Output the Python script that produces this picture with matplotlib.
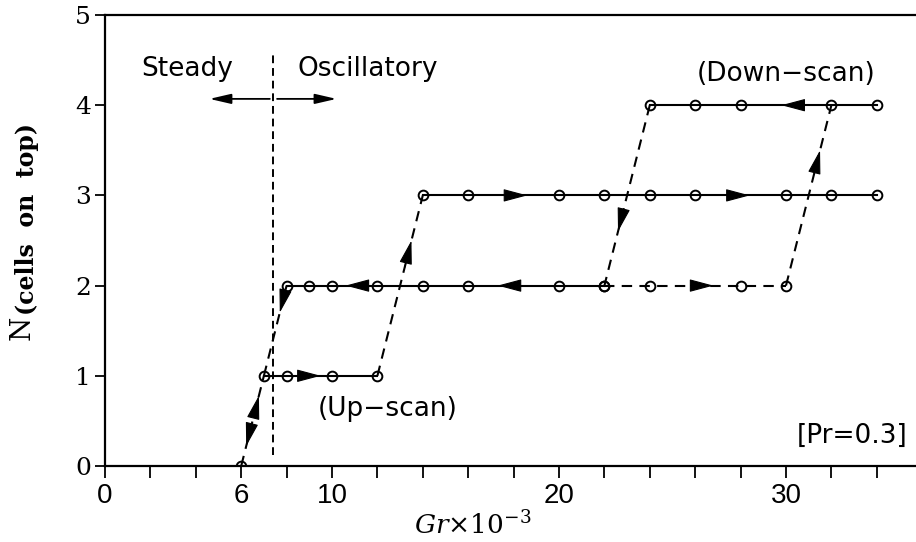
import numpy as np
import matplotlib
matplotlib.use("Agg")
import matplotlib.pyplot as plt

# ── Data (Gr x 1e-3, number of cells on top) ───────────────────────────────
onset_gr, onset_n = [6], [0]
level1_gr = [7, 8, 10, 12]
level2_solid_gr = [8, 9, 10, 12, 14, 16, 20, 22]
level2_dashed_gr = [22, 24, 28, 30]
level3_gr = [14, 16, 20, 22, 24, 26, 30, 32, 34]
level4_gr = [24, 26, 28, 32, 34]

# dashed transitions between levels: (gr_start, n_start, gr_end, n_end)
jumps = [
    (6, 0, 7, 1),
    (7, 1, 8, 2),
    (12, 1, 14, 3),
    (24, 4, 22, 2),
    (30, 2, 32, 4),
]

# arrowheads: (tail_gr, tail_n, tip_gr, tip_n)
arrows = [
    (8.6, 1, 9.5, 1),
    (18.2, 2, 17.3, 2),
    (11.5, 2, 10.6, 2),
    (25.8, 2, 26.8, 2),
    (17.7, 3, 18.6, 3),
    (27.5, 3, 28.4, 3),
    (30.7, 4, 29.8, 4),
    (13.2, 2.2, 13.5, 2.5),
    (22.85, 2.85, 22.6, 2.6),
    (31.25, 3.25, 31.5, 3.5),
    (7.8, 1.8, 7.7, 1.7),
    (6.55, 0.55, 6.78, 0.78),
    (6.45, 0.45, 6.22, 0.22),
]

transition_gr = 7.38
x_major = [0, 6, 10, 20, 30]
x_minor = [2, 4, 8, 12, 14, 16, 18, 22, 24, 26, 28, 32, 34]

sans = ['Liberation Sans Narrow', 'Liberation Sans', 'DejaVu Sans']
plt.rcParams['mathtext.fontset'] = 'dejavuserif'

fig = plt.figure(figsize=(9.16, 5.42), dpi=100)
ax = fig.add_axes([105 / 916, 76 / 542, 811 / 916, 451 / 542])
ax.set_xlim(0, 811 / 22.7)
ax.set_ylim(0, 5)

lw = 1.5
mk = dict(marker='o', ms=7, mfc='none', mec='k', mew=1.4)

# solid plateaus
ax.plot(level1_gr, [1] * len(level1_gr), '-', color='k', lw=lw, **mk)
ax.plot(level2_solid_gr, [2] * len(level2_solid_gr), '-', color='k', lw=lw, **mk)
ax.plot(level3_gr, [3] * len(level3_gr), '-', color='k', lw=lw, **mk)
ax.plot(level4_gr, [4] * len(level4_gr), '-', color='k', lw=lw, **mk)
ax.plot(level2_dashed_gr, [2] * len(level2_dashed_gr), color='k', lw=lw,
        ls=(0, (5, 3.5)), **mk)
ax.plot(onset_gr, onset_n, color='k', lw=0, **mk)

for x0, y0, x1, y1 in jumps:
    ax.plot([x0, x1], [y0, y1], color='k', lw=lw, ls=(0, (5, 3.5)))

for x0, y0, x1, y1 in arrows:
    ax.annotate('', xy=(x1, y1), xytext=(x0, y0),
                arrowprops=dict(arrowstyle='-|>,head_length=1.5,head_width=0.4',
                                lw=0.8, color='k', shrinkA=0, shrinkB=0))

# steady / oscillatory boundary
ax.plot([transition_gr, transition_gr], [0.12, 4.6], color='k', lw=1.4,
        ls=(0, (4, 2.5)))
for tip in (4.6, 10.2):
    start = transition_gr - 0.12 if tip < transition_gr else transition_gr + 0.2
    ax.annotate('', xy=(tip, 4.07), xytext=(start, 4.07),
                arrowprops=dict(arrowstyle='-|>,head_length=1.3,head_width=0.3',
                                lw=1.3, color='k', shrinkA=0, shrinkB=0))

txt = dict(family='DejaVu Sans', fontsize=19, color='k')
ax.text(3.6, 4.4, 'Steady', ha='center', va='center', **txt)
ax.text(8.5, 4.4, 'Oscillatory', ha='left', va='center', **txt)
ax.text(30.0, 4.35, '(Down\u2212scan)', ha='center', va='center', **txt)
ax.text(12.45, 0.63, '(Up\u2212scan)', ha='center', va='center', **txt)
ax.text(35.35, 0.33, '[Pr=0.3]', ha='right', va='center', **txt)

# axes styling
ax.spines['right'].set_visible(False)
for s in ('left', 'bottom', 'top'):
    ax.spines[s].set_linewidth(1.6)
ax.set_xticks(x_major)
ax.set_xticks(x_minor, minor=True)
ax.set_xticklabels([str(v) for v in x_major], family=sans, fontsize=20)
ax.set_yticks(range(6))
ax.set_yticklabels([str(v) for v in range(6)], family='DejaVu Serif', fontsize=18)
ax.tick_params(axis='x', which='both', direction='out', length=8.5, width=1.3, pad=4)
ax.tick_params(axis='y', direction='out', length=7, width=1.3, pad=3)

ax.text(16.2, -0.66, r'$Gr$' + '\u00d710' + r'$^{-3}$', ha='center', va='center',
        family='DejaVu Serif', fontsize=19)

# y label: N with a bold subscript, drawn as two rotated texts
fig.text(22 / 916, 1 - 328 / 542, 'N', rotation=90, ha='center', va='center',
         family='DejaVu Serif', fontsize=20)
fig.text(27 / 916, 1 - 315 / 542, '(cells  on  top)', rotation=90, ha='center',
         va='bottom', family='DejaVu Serif', weight='bold', fontsize=17)

fig.savefig('out.png', dpi=100)
